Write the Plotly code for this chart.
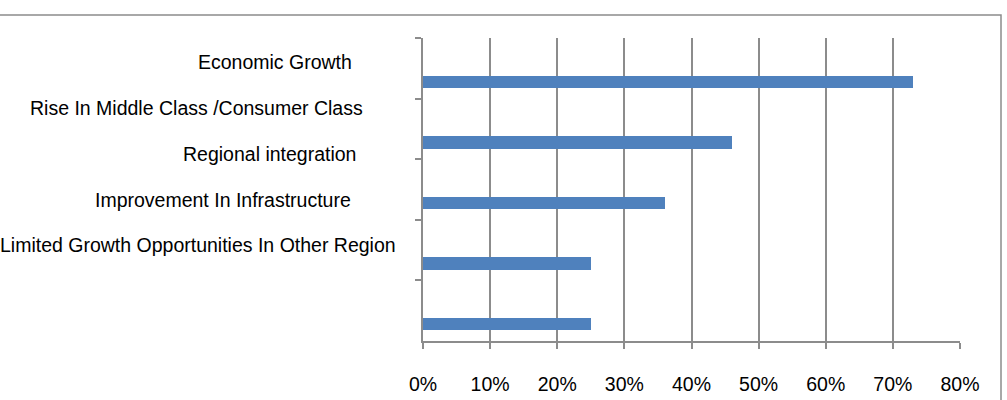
import plotly.graph_objects as go

# ---- data ----
categories = [
    "Economic Growth",
    "Rise In Middle Class /Consumer Class",
    "Regional integration",
    "Improvement In Infrastructure",
    "Limited Growth Opportunities In Other Region",
]
values = [73, 46, 36, 25, 25]  # percent
x_ticks = [0, 10, 20, 30, 40, 50, 60, 70, 80]

# ---- layout geometry (pixels) ----
W, H = 1007, 400
L, R, T, B = 423, 47, 38, 59
PW, PH = W - L - R, H - T - B


def px_x(px):
    return (px - L) / PW


def px_y(py):
    return 1 - (py - T) / PH


# label placement in the reference (right edge x, vertical centre y)
label_right = [354, 365, 358, 353, 398]
label_mid = [61.5, 107.5, 154, 200, 245]

GRAY = "#8c8c8c"
FONT = "Liberation Sans, Arial, sans-serif"
FS = 19.5

fig = go.Figure()
fig.add_trace(
    go.Bar(
        y=categories,
        x=values,
        orientation="h",
        marker=dict(color="#4F81BD", line=dict(width=0)),
        offset=0.12,
        width=0.205,
        hoverinfo="x+y",
    )
)

annotations = []
for name, rx, my in zip(categories, label_right, label_mid):
    annotations.append(
        dict(
            text=name,
            x=px_x(rx),
            y=px_y(my),
            xref="paper",
            yref="paper",
            xanchor="right",
            yanchor="middle",
            showarrow=False,
            font=dict(family=FONT, size=FS, color="#000000"),
        )
    )

fig.update_layout(
    width=W,
    height=H,
    margin=dict(l=L, r=R, t=T, b=B, pad=0, autoexpand=False),
    paper_bgcolor="white",
    plot_bgcolor="white",
    showlegend=False,
    font=dict(family=FONT, size=FS, color="#000000"),
    annotations=annotations,
    shapes=[
        dict(
            type="rect",
            xref="paper",
            yref="paper",
            x0=px_x(-10),
            x1=px_x(1001),
            y0=px_y(15),
            y1=px_y(420),
            line=dict(color=GRAY, width=1.5),
            fillcolor="rgba(0,0,0,0)",
            layer="below",
        )
    ],
    bargap=0,
)

fig.update_xaxes(
    range=[0, 80],
    tickmode="array",
    tickvals=x_ticks,
    ticktext=[f"{v}%" for v in x_ticks],
    showgrid=True,
    gridcolor=GRAY,
    gridwidth=1.5,
    zeroline=False,
    showline=True,
    linecolor=GRAY,
    linewidth=1.5,
    ticks="outside",
    ticklen=6,
    tickcolor=GRAY,
    tickwidth=1.5,
    ticklabelstandoff=19,
    tickfont=dict(family=FONT, size=FS, color="#000000"),
    automargin=False,
    fixedrange=True,
)

fig.update_yaxes(
    type="category",
    categoryorder="array",
    categoryarray=categories,
    range=[4.5, -0.5],
    showgrid=False,
    zeroline=False,
    showline=True,
    linecolor=GRAY,
    linewidth=1.5,
    ticks="outside",
    ticklen=6,
    tickcolor=GRAY,
    tickwidth=1.5,
    tickson="boundaries",
    showticklabels=False,
    automargin=False,
    fixedrange=True,
)

fig.write_html("out.html", config={"displayModeBar": False})
